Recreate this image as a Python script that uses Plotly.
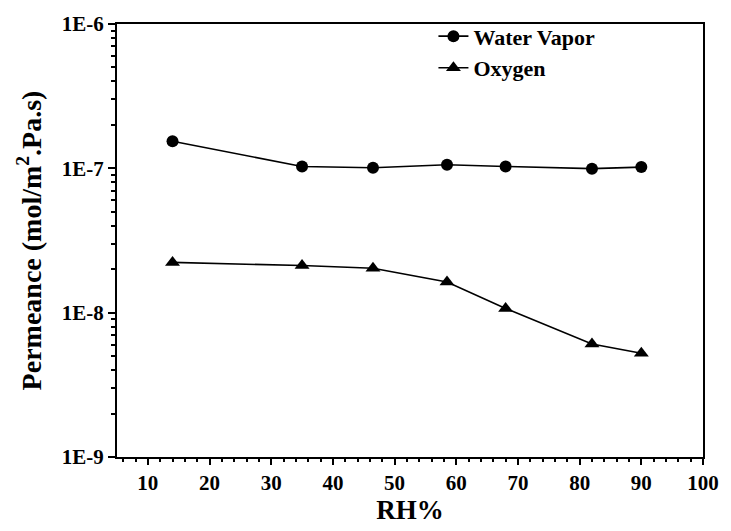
import plotly.graph_objects as go

# Relative humidity (%) at which permeance was measured
rh = [14, 35, 46.5, 58.5, 68, 82, 90]

# Permeance, mol/(m^2 Pa s)
water_vapor = [1.54e-7, 1.03e-7, 1.01e-7, 1.06e-7, 1.03e-7, 0.995e-7, 1.02e-7]
oxygen = [2.23e-8, 2.12e-8, 2.03e-8, 1.63e-8, 1.07e-8, 6.07e-9, 5.24e-9]

y_ticks = [1e-9, 1e-8, 1e-7, 1e-6]
y_tick_text = ["1E-9", "1E-8", "1E-7", "1E-6"]
x_ticks = [10, 20, 30, 40, 50, 60, 70, 80, 90, 100]

FONT = "Liberation Serif, Times New Roman, serif"


def bold(s):
    return f"<b>{s}</b>"


fig = go.Figure()
fig.add_trace(go.Scatter(
    x=rh, y=water_vapor, name=bold("Water Vapor"), mode="lines+markers",
    line=dict(color="black", width=1.6),
    marker=dict(symbol="circle", size=12, color="black"),
))
fig.add_trace(go.Scatter(
    x=rh, y=oxygen, name=bold("Oxygen"), mode="lines+markers",
    line=dict(color="black", width=1.6),
    marker=dict(symbol="triangle-up", size=13, color="black"),
))

minor_y = [m * 10.0 ** e for e in (-9, -8, -7) for m in range(2, 10)]

fig.update_layout(
    width=731, height=531,
    margin=dict(l=117, r=19, t=24, b=67),
    paper_bgcolor="white", plot_bgcolor="white",
    font=dict(family=FONT, color="black", size=21),
    showlegend=True,
    legend=dict(
        x=0.54, y=1.02, xanchor="left", yanchor="top",
        bgcolor="rgba(0,0,0,0)",
        font=dict(family=FONT, size=22, color="black"),
        tracegroupgap=0, itemwidth=30,
    ),
    xaxis=dict(
        range=[5, 100], tickmode="array", tickvals=x_ticks,
        ticktext=[bold(v) for v in x_ticks],
        ticks="outside", ticklen=6, tickwidth=2, tickcolor="black",
        showline=True, linewidth=2, linecolor="black", mirror=True,
        showgrid=False, zeroline=False,
        tickfont=dict(family=FONT, size=21, color="black"),
        minor=dict(ticks="outside", ticklen=3, tickwidth=1.5, tickcolor="black",
                   dtick=2, tick0=0, showgrid=False),
        title=dict(text=bold("RH%"), font=dict(family=FONT, size=27, color="black"),
                   standoff=5),
    ),
    yaxis=dict(
        type="log", range=[-9, -6], tickmode="array",
        tickvals=y_ticks, ticktext=[bold(t) for t in y_tick_text],
        ticks="outside", ticklen=7, tickwidth=2, tickcolor="black",
        showline=True, linewidth=2, linecolor="black", mirror=True,
        showgrid=False, zeroline=False,
        tickfont=dict(family=FONT, size=21, color="black"),
        minor=dict(ticks="outside", ticklen=4, tickwidth=1.5, tickcolor="black",
                   tickmode="array", tickvals=minor_y, showgrid=False),
        title=dict(text=bold("Permeance (mol/m<sup>2</sup>.Pa.s)"),
                   font=dict(family=FONT, size=28, color="black"),
                   standoff=12),
    ),
)

fig.write_html("out.html")
